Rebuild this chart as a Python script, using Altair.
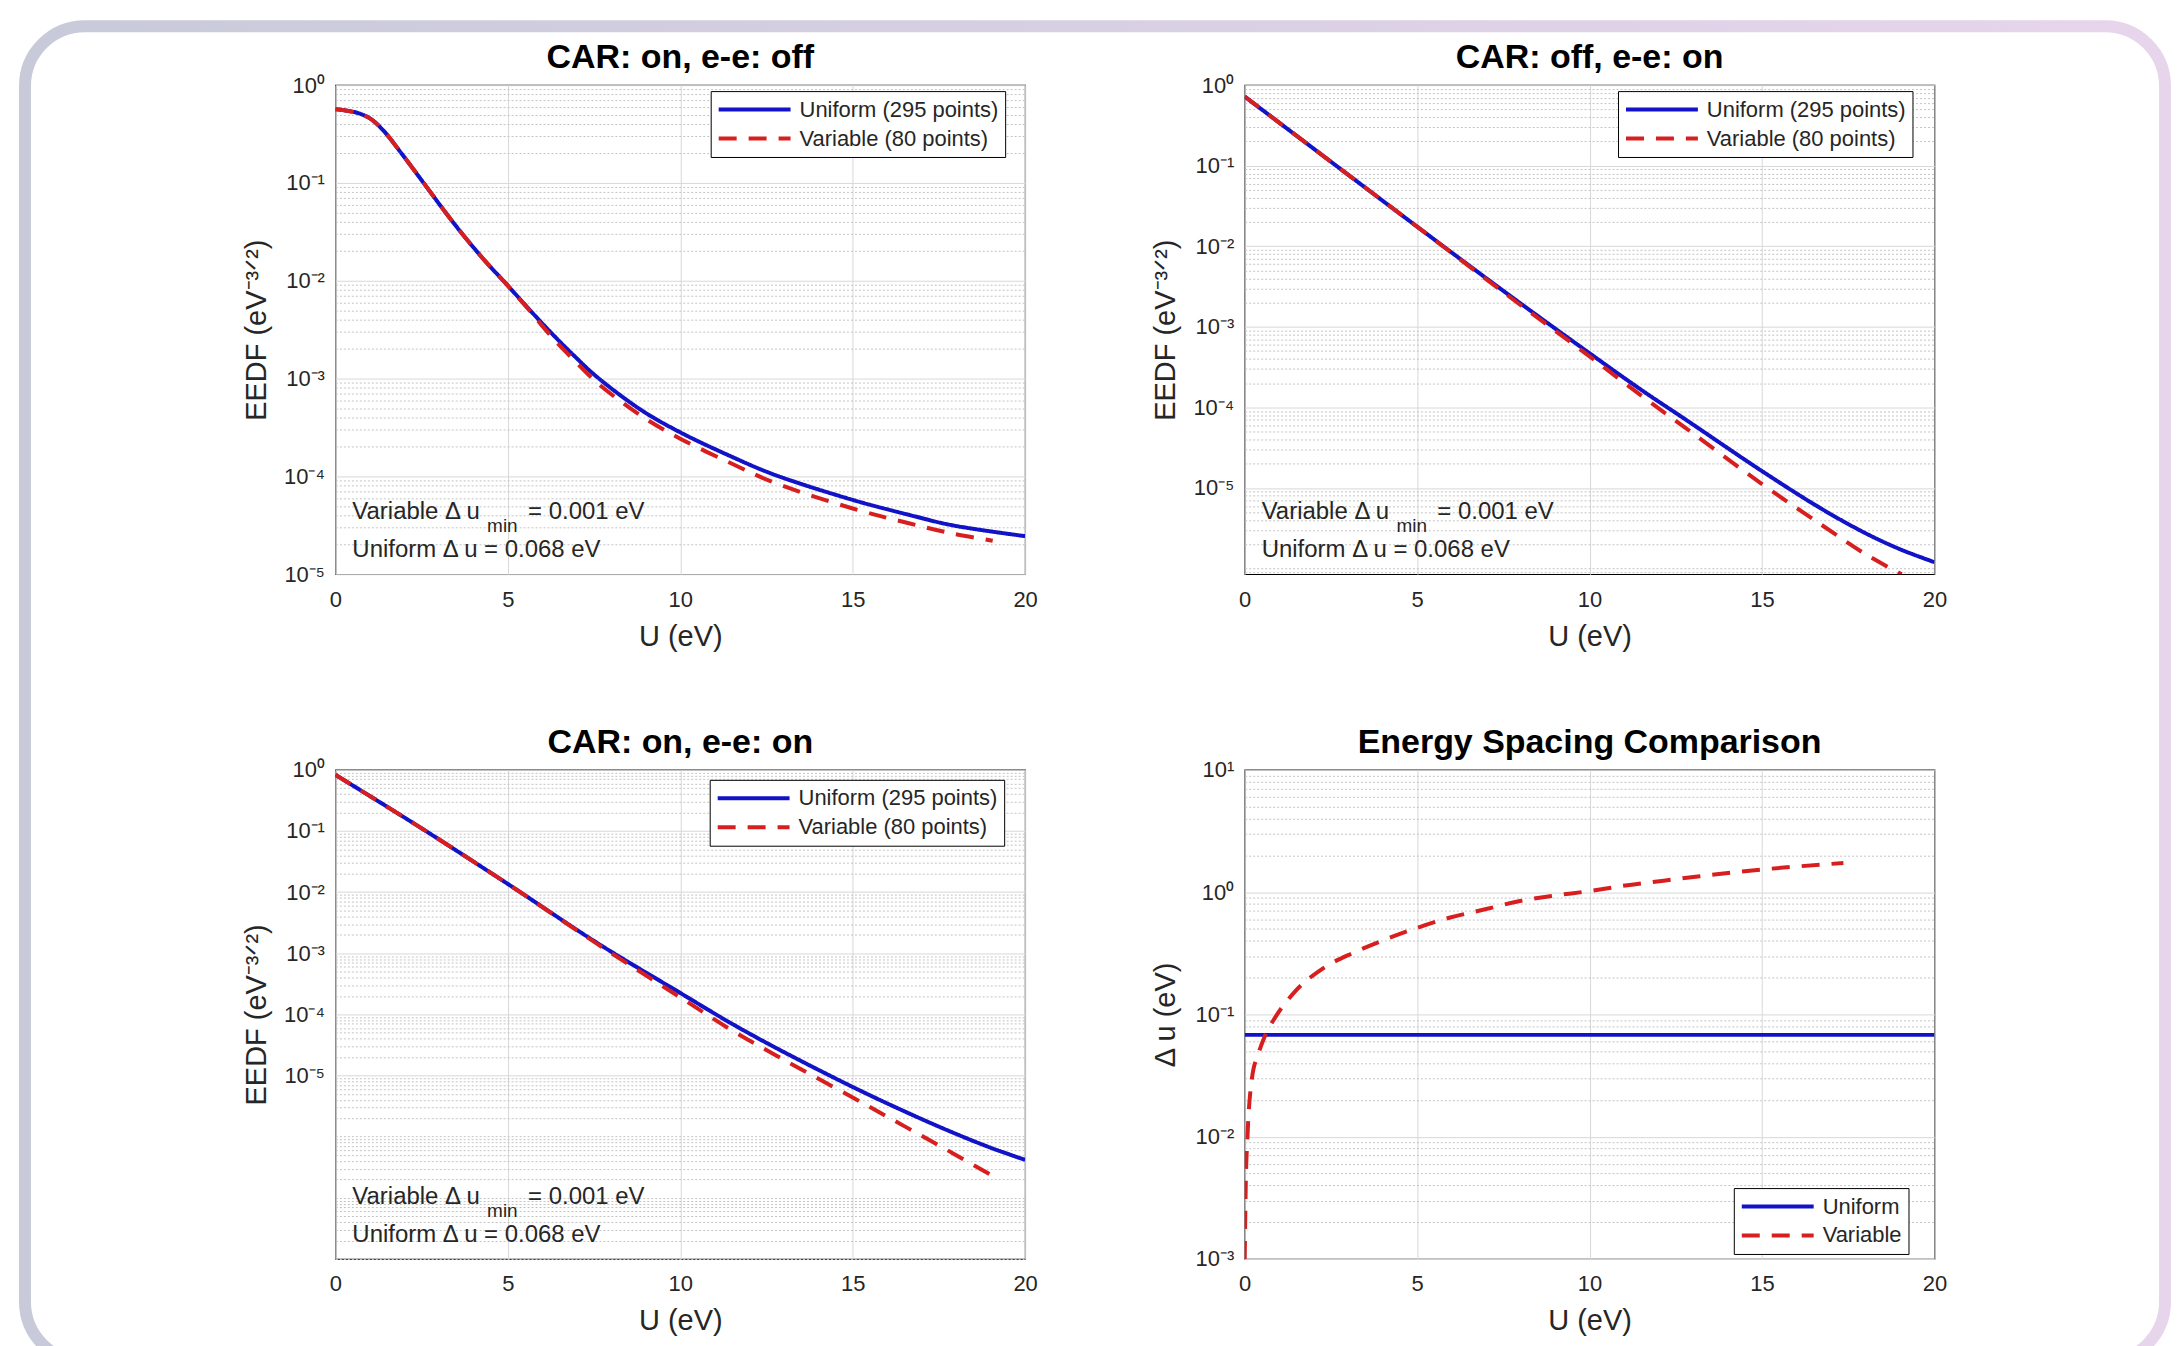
import altair as alt
import pandas as pd

# ---------------- data ----------------
# Panel 1: CAR on, e-e off
p1_uni_U = [0, 0.6, 1.0, 1.38, 1.9, 2.6, 3.19, 3.7, 4.35, 5.0, 5.64, 6.28, 6.93, 7.57, 8.86, 10.0, 11.44, 12.7, 15.0, 16.6, 17.9, 20.0]
p1_uni_F = [0.568, 0.525, 0.457, 0.347, 0.204, 0.0955, 0.0501, 0.0295, 0.0158, 0.00891, 0.00501, 0.00288, 0.0017,
            0.00105, 4.79e-4, 2.82e-4, 1.62e-4, 1.05e-4, 5.75e-5, 4.07e-5, 3.16e-5, 2.45e-5]
p1_var_U = [0, 0.6, 1.0, 1.38, 1.9, 2.6, 3.19, 3.7, 4.35, 5.0, 5.64, 6.28, 6.93, 7.57, 8.86, 10.0, 11.44, 12.7, 15.0, 16.6, 17.9, 19.06]
p1_var_F = [0.568, 0.525, 0.457, 0.347, 0.204, 0.0955, 0.0501, 0.0295, 0.0158, 0.00891, 0.0049, 0.00265, 0.00153,
            9.2e-4, 4.17e-4, 2.43e-4, 1.38e-4, 8.7e-5, 4.7e-5, 3.34e-5, 2.6e-5, 2.2e-5]

# Panel 2: CAR off, e-e on
p2_uni_U = [0, 2.5, 5, 7.6, 10, 11.5, 12.8, 15, 16.7, 18, 19, 20]
p2_uni_F = [0.72, 0.112, 0.0175, 2.6e-3, 4.7e-4, 1.65e-4, 7.0e-5, 1.62e-5, 5.6e-6, 2.75e-6, 1.74e-6, 1.2e-6]
p2_var_U = [0, 2.5, 5, 7.6, 10, 11.5, 12.8, 15, 16.7, 18, 19.05]
p2_var_F = [0.72, 0.112, 0.0175, 2.5e-3, 4.3e-4, 1.4e-4, 5.5e-5, 1.12e-5, 3.55e-6, 1.51e-6, 8.5e-7]

# Panel 3: CAR on, e-e on
p3_uni_U = [0, 2.4, 5, 7.57, 10, 11.45, 12.74, 15, 16.6, 17.9, 19, 20]
p3_uni_F = [0.83, 0.12, 0.0136, 1.5e-3, 2.24e-4, 7.3e-5, 2.9e-5, 6.5e-6, 2.45e-6, 1.17e-6, 6.6e-7, 4.17e-7]
p3_var_U = [0, 2.4, 5, 7.57, 10, 11.45, 12.74, 15, 16.6, 17.9, 19.08]
p3_var_F = [0.83, 0.12, 0.0136, 1.45e-3, 1.9e-4, 5.7e-5, 2.19e-5, 4.37e-6, 1.38e-6, 5.37e-7, 2.24e-7]

# Panel 4: energy spacing
p4_uni_U = [0, 20]
p4_uni_D = [0.068, 0.068]
p4_var_U = [0, 0.03, 0.08, 0.21, 0.4, 0.6, 0.89, 1.47, 2.25, 3.16, 4.08, 5.0, 5.96, 6.94, 7.98, 8.9, 10.0,
            11.1, 12.15, 13.2, 15.0, 17.36]
p4_var_D = [0.001, 0.004, 0.01, 0.03, 0.048, 0.068, 0.095, 0.155, 0.236, 0.32, 0.41, 0.51, 0.62, 0.72, 0.845,
            0.93, 1.02, 1.14, 1.24, 1.35, 1.53, 1.73]

titles = ["CAR: on, e-e: off", "CAR: off, e-e: on", "CAR: on, e-e: on", "Energy Spacing Comparison"]
series_eedf = ["Uniform (295 points)", "Variable (80 points)"]
series_dx = ["Uniform", "Variable"]
ann_var = ["Variable \u0394 u", "min", "= 0.001 eV"]
ann_uni = "Uniform \u0394 u = 0.068 eV"

# ---------------- style ----------------
BLUE = "#1212c6"
RED = "#d81f1f"
FONT = "Liberation Sans"
TXT = "#262626"
W, H = 691, 490
TICK_FS, AXT_FS, TITLE_FS, LEG_FS, ANN_FS = 22, 29, 34, 22, 24

SUP = {"0": "\u2070", "1": "\u00b9", "2": "\u00b2", "3": "\u00b3", "4": "\u2074", "5": "\u2075",
       "6": "\u2076", "7": "\u2077", "8": "\u2078", "9": "\u2079", "-": "\u207b"}


def sup(n):
    return "".join(SUP[c] for c in str(n))


def y_axis(title, lo_lab, hi_lab, dmin, dmax):
    vals = []
    for e in range(-10, 3):
        for m in range(1, 10):
            v = m * 10.0 ** e
            if dmin * 0.999 <= v <= dmax * 1.001:
                vals.append(v)
    E = "(log(datum.value)/LN10)"
    major = f"(abs({E} - round({E})) < 0.001 && round({E}) >= {lo_lab} && round({E}) <= {hi_lab})"
    lab = "''"
    for e in range(lo_lab, hi_lab + 1):
        lab = f"(round({E}) == {e} ? '10{sup(e)}' : {lab})"
    return alt.Axis(
        values=vals, labelExpr=f"{major} ? {lab} : ''", labelOverlap=False, labelFlush=False,
        labelBound=False, grid=True,
        gridColor={"condition": {"test": major, "value": "#d8d8d8"}, "value": "#c4c4c4"},
        gridDash={"condition": {"test": major, "value": []}, "value": [2, 2]},
        gridWidth=1, ticks=False, domain=False, labelFontSize=TICK_FS, labelPadding=11,
        labelColor=TXT, title=title, titleFontSize=AXT_FS, titleFontWeight="normal",
        titleColor=TXT, titlePadding=12, minExtent=52, maxExtent=52,
    )


x_axis = alt.Axis(values=[0, 5, 10, 15, 20], grid=True, gridColor="#d8d8d8", ticks=False, domain=False,
                  labelFontSize=TICK_FS, labelPadding=15, labelFlush=False, labelColor=TXT,
                  title="U (eV)", titleFontSize=AXT_FS, titleFontWeight="normal", titleColor=TXT,
                  titlePadding=12)


def legend(lx, ly):
    return alt.Legend(title=None, orient="none", legendX=lx, legendY=ly, strokeColor="black",
                      fillColor="white", padding=6, symbolType="stroke", symbolSize=5184,
                      symbolStrokeWidth=4, labelFontSize=LEG_FS, labelColor=TXT, labelOffset=7,
                      labelLimit=500, rowPadding=4, clipHeight=25)


def panel(title, uU, uV, vU, vV, names, ydom, ytitle, lo_lab, hi_lab, leg_xy, annotate, interp, frame=False):
    df = pd.DataFrame({
        "U": list(uU) + list(vU),
        "v": list(uV) + list(vV),
        "s": [names[0]] * len(uU) + [names[1]] * len(vU),
    })
    lg = legend(*leg_xy)
    lines = alt.Chart(df).mark_line(strokeWidth=4, interpolate=interp, clip=True).encode(
        x=alt.X("U:Q", scale=alt.Scale(domain=[0, 20], nice=False, zero=False), axis=x_axis),
        y=alt.Y("v:Q", scale=alt.Scale(type="log", domain=ydom, nice=False),
                axis=y_axis(ytitle, lo_lab, hi_lab, ydom[0], ydom[1])),
        color=alt.Color("s:N", scale=alt.Scale(domain=names, range=[BLUE, RED]), legend=lg),
        strokeDash=alt.StrokeDash("s:N", scale=alt.Scale(domain=names, range=[[1, 0], [18, 12]]), legend=lg),
        order=alt.Order("U:Q"),
    )
    layers = []
    one = pd.DataFrame({"k": [0]})
    base = alt.Chart(one)
    if frame:
        grad = alt.LinearGradient(gradient="linear", x1=0, x2=1, y1=0, y2=0,
                                  stops=[alt.GradientStop(color="#c8cad9", offset=0),
                                         alt.GradientStop(color="#e7d5ec", offset=1)])
        layers.append(base.mark_rect(fillOpacity=0, stroke=grad, strokeWidth=12, cornerRadius=60)
                      .encode(x=alt.value(-311), x2=alt.value(1833), y=alt.value(-59), y2=alt.value(1279)))
    layers.append(lines)
    layers.append(base.mark_text(text=title, fontSize=TITLE_FS, fontWeight="bold", font=FONT, color="black",
                                 align="center", baseline="middle")
                  .encode(x=alt.value(W / 2), y=alt.value(-27)))
    if annotate:
        kw = dict(align="left", baseline="middle", font=FONT, color=TXT)
        layers.append(base.mark_text(text=ann_var[0], fontSize=ANN_FS, **kw).encode(x=alt.value(17), y=alt.value(H - 62)))
        layers.append(base.mark_text(text=ann_var[1], fontSize=19, **kw).encode(x=alt.value(152), y=alt.value(H - 48)))
        layers.append(base.mark_text(text=ann_var[2], fontSize=ANN_FS, **kw).encode(x=alt.value(193), y=alt.value(H - 62)))
        layers.append(base.mark_text(text=ann_uni, fontSize=ANN_FS, **kw).encode(x=alt.value(17), y=alt.value(H - 24)))
    return alt.layer(*layers).properties(width=W, height=H)


EEDF_T = "EEDF (eV\u207b\u00b3\u141f\u00b2)"
c1 = panel(titles[0], p1_uni_U, p1_uni_F, p1_var_U, p1_var_F, series_eedf, [1e-5, 1], EEDF_T, -5, 0, (376, 6), True, "catmull-rom", frame=True)
c2 = panel(titles[1], p2_uni_U, p2_uni_F, p2_var_U, p2_var_F, series_eedf, [10 ** -6.07, 1], EEDF_T, -5, 0, (374, 6), True, "catmull-rom")
c3 = panel(titles[2], p3_uni_U, p3_uni_F, p3_var_U, p3_var_F, series_eedf, [1e-8, 1], EEDF_T, -5, 0, (375, 10), True, "catmull-rom")
c4 = panel(titles[3], p4_uni_U, p4_uni_D, p4_var_U, p4_var_D, series_dx, [1e-3, 10], "\u0394 u (eV)", -3, 1, (490, 419), False, "monotone")

chart = alt.concat(c1, c2, c3, c4, columns=2, spacing={"row": 196, "column": 220}, bounds="flush").resolve_scale(
    x="independent", y="independent", color="independent", strokeDash="independent"
).properties(
    padding={"left": 10, "top": 10, "right": 0, "bottom": 0}
).configure(
    background="white", font=FONT
).configure_view(
    stroke="black", strokeWidth=1.2
).configure_axis(
    labelFont=FONT, titleFont=FONT
).configure_legend(
    labelFont=FONT
)

chart.save("out.html", embed_options={"renderer": "svg", "actions": False})
